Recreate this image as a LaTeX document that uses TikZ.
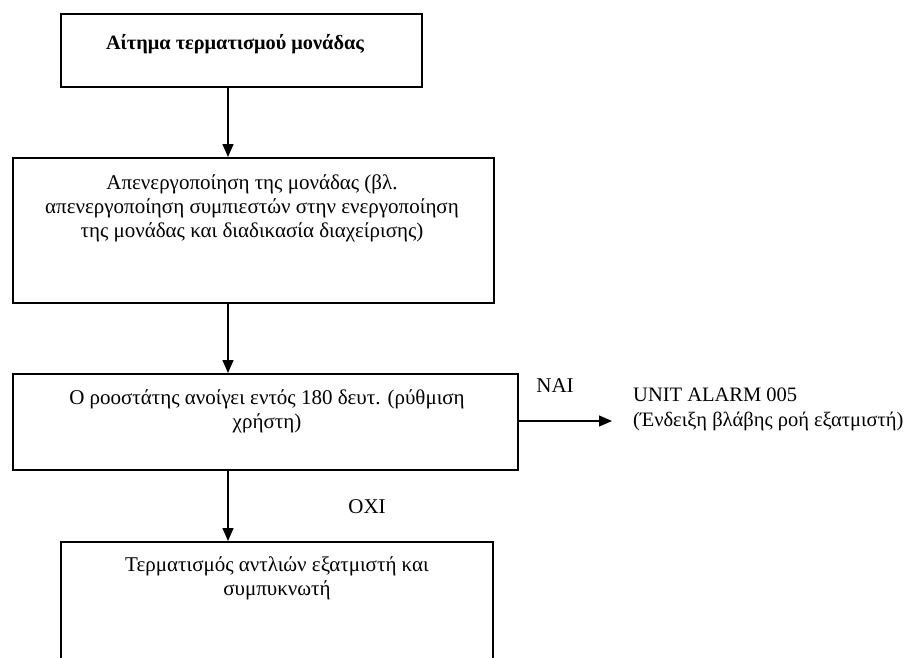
\documentclass[tikz,border=0pt]{standalone}
\usepackage{fontspec}
\setmainfont{Liberation Serif}
\usetikzlibrary{arrows.meta}
\begin{document}
\begin{tikzpicture}[x=1pt,y=-1pt,
  box/.style={draw, line width=1.6pt, rectangle, inner sep=0pt, anchor=north west},
  txt/.style={inner sep=0pt, anchor=north, align=center, font=\fontsize{21}{24}\selectfont},
  lbl/.style={inner sep=0pt, anchor=base, font=\fontsize{21}{24}\selectfont},
  arr/.style={line width=1.2pt, -{Triangle[length=13pt,width=11pt]}}]
\useasboundingbox (0,0) rectangle (914,657);
% boxes
\node[box, minimum width=361pt, minimum height=73pt] (b1) at (60,13) {};
\node[box, minimum width=481pt, minimum height=145pt] (b2) at (12,157) {};
\node[box, minimum width=505pt, minimum height=96pt] (b3) at (12,373) {};
\node[box, minimum width=432pt, minimum height=160pt] (b4) at (60,541) {};
% texts
\node[txt, font=\fontsize{20.3}{24}\selectfont\bfseries] (t1) at (235,32) {\strut Αίτημα τερματισμού μονάδας};
\node[txt] (t2) at (252,172.5) {\strut Απενεργοποίηση της μονάδας (βλ.\\απενεργοποίηση συμπιεστών στην ενεργοποίηση\\της μονάδας και διαδικασία διαχείρισης)};
\node[txt] (t3) at (267,387) {\strut Ο ροοστάτης ανοίγει εντός 180 δευτ. (ρύθμιση\\χρήστη)};
\node[txt] (t4) at (277,554.5) {\strut Τερματισμός αντλιών εξατμιστή και\\συμπυκνωτή};
\node[lbl] (nai) at (555,392) {NAI};
\node[lbl] (oxi) at (367,513) {OXI};
\node[txt, anchor=north west, align=left, font=\fontsize{20.5}{24.5}\selectfont] (alarm) at (633,384.5) {\strut UNIT ALARM 005\\(Ένδειξη βλάβης ροή εξατμιστή)};
% connectors
\coordinate (ax) at (228,0);
\coordinate (tip) at (612,421);
\draw[arr] (b1.south -| ax) -- (b2.north -| ax);
\draw[arr] (b2.south -| ax) -- (b3.north -| ax);
\draw[arr] (b3.south -| ax) -- (b4.north -| ax);
\draw[arr] (b3.east |- tip) -- (tip);
\end{tikzpicture}
\end{document}
